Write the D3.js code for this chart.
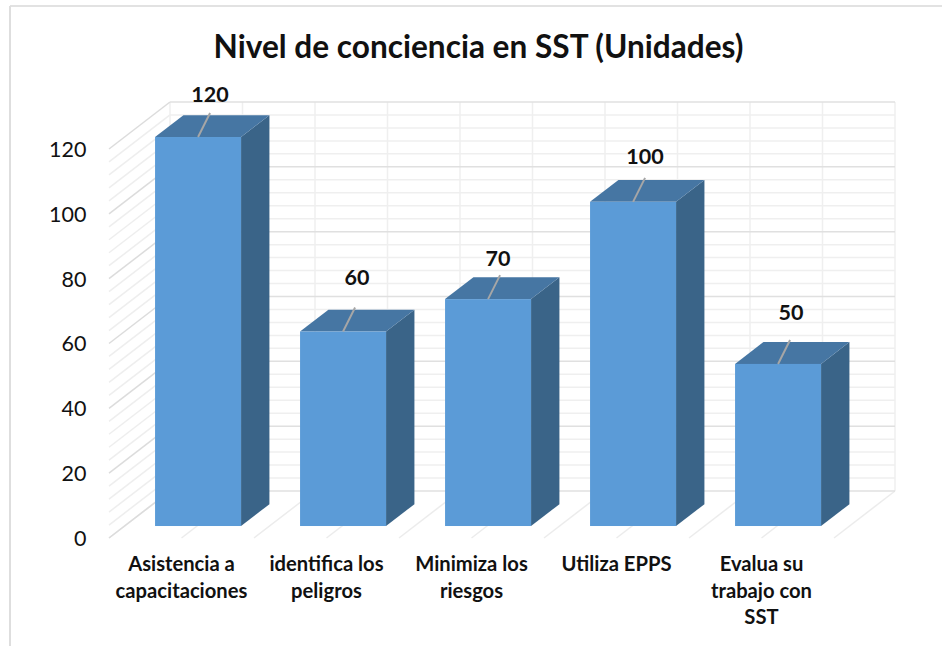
<!DOCTYPE html>
<html><head><meta charset="utf-8">
<script src="https://d3js.org/d3.v7.min.js"></script>
<style>html,body{margin:0;padding:0;background:#fff}svg{display:block}text{font-family:Lato,sans-serif;fill:#111}</style>
</head><body><div id="c"></div>
<script>
const titleText = "Nivel de conciencia en SST (Unidades)";
const categories = [["Asistencia a","capacitaciones"],["identifica los","peligros"],["Minimiza los","riesgos"],["Utiliza EPPS"],["Evalua su","trabajo con","SST"]];
const values = [120,60,70,100,50];
const yTicks = [0,20,40,60,80,100,120];
const minorStep = 4;
// manual placement of the value labels relative to each bar's top edge
const labelDx = [13,15,11,13,14];
const labelDy = [-35,-47,-33,-38,-44];

const W=942,H=646;
const svg=d3.select("#c").append("svg").attr("width",W).attr("height",H);
// front plane of the 3D box
const y=d3.scaleLinear().domain([0,120]).range([538,149]);
const x=d3.scaleBand().domain(d3.range(values.length)).range([109,834]).paddingInner(0).paddingOuter(0);
const depthX=61, depthY=-47;
const P=(px,py,d)=>[px+depthX*d,py+depthY*d];
const ln=(g,a,b,c,w)=>g.append("line").attr("x1",a[0]).attr("y1",a[1]).attr("x2",b[0]).attr("y2",b[1]).attr("stroke",c).attr("stroke-width",w);

// picture frame
svg.append("line").attr("x1",10).attr("x2",W).attr("y1",6).attr("y2",6).attr("stroke","#e2e2e2").attr("stroke-width",2);
svg.append("line").attr("x1",10).attr("x2",10).attr("y1",6).attr("y2",646).attr("stroke","#dedede").attr("stroke-width",2);

const grid=svg.append("g");
const xl=x.range()[0], xr=x.range()[1];
const minors=d3.range(0,120+minorStep,minorStep);
minors.filter(v=>v%20!==0).forEach(v=>{
  ln(grid,[xl,y(v)],P(xl,y(v),1),"#eeeeee",1.5);
  ln(grid,P(xl,y(v),1),P(xr,y(v),1),"#efefef",1.5);
});
const verts=d3.range(0,values.length*2+1).map(i=>xl+i*x.bandwidth()/2);
verts.forEach(vx=>{
  ln(grid,P(vx,y(0),1),P(vx,y(120),1),"#efefef",1.5);
  ln(grid,[vx,y(0)],P(vx,y(0),1),"#ececec",1.5);
});
yTicks.forEach(v=>{
  ln(grid,[xl,y(v)],P(xl,y(v),1),"#dcdcdc",1.5);
  ln(grid,P(xl,y(v),1),P(xr,y(v),1),"#e0e0e0",1.5);
});

// axis tick labels
const axis=svg.append("g").attr("transform","translate(86.5,-0.4)")
  .call(d3.axisLeft(y).tickValues(yTicks).tickSize(0).tickPadding(0));
axis.select(".domain").remove();
axis.selectAll("text").style("font-size","21.5px").style("font-family","Lato,sans-serif").attr("dy","0.36em").attr("fill","#111");

// bars
const dStart=0.255, dEnd=0.72;
const barW=86, barShift=1;
const bars=svg.append("g");
values.forEach((v,i)=>{
  const cx=x(i)+x.bandwidth()/2+barShift;
  const [x0,y0]=P(cx-barW/2,y(0),dStart);
  const [x1,y1]=P(cx+barW/2,y(v),dStart);
  const [x2,y2]=P(cx-barW/2,y(v),dEnd);
  const [x3,y3]=P(cx+barW/2,y(v),dEnd);
  const [,y4]=P(cx+barW/2,y(0),dEnd);
  bars.append("polygon").attr("points",[[x1,y1],[x3,y3],[x3,y4],[x1,y0]].join(" ")).attr("fill","#3a6488");
  bars.append("polygon").attr("points",[[x0,y1],[x2,y2],[x3,y3],[x1,y1]].join(" ")).attr("fill","#4676a3");
  bars.append("rect").attr("x",x0).attr("y",y1).attr("width",x1-x0).attr("height",y0-y1).attr("fill","#5b9bd7");
  const mx=(x0+x1)/2;
  ln(bars,[mx,y1],[mx+12,y1-24],"#a6a6a6",2);
  bars.append("text").attr("x",mx+labelDx[i]-1).attr("y",y1+labelDy[i]).attr("text-anchor","middle")
    .style("font-size","21.5px").style("font-weight",700).text(v);
});

// category labels
const labels=svg.append("g");
categories.forEach((lines,i)=>{
  const cx=x(i)+x.bandwidth()/2;
  lines.forEach((t,j)=>{
    labels.append("text").attr("x",cx).attr("y",571+j*26.5).attr("text-anchor","middle")
      .style("font-size","20.2px").style("font-weight",700).text(t);
  });
});

svg.append("text").attr("x",478.5).attr("y",58).attr("text-anchor","middle")
  .style("font-size","31.6px").style("font-weight",700).text(titleText);
</script></body></html>
